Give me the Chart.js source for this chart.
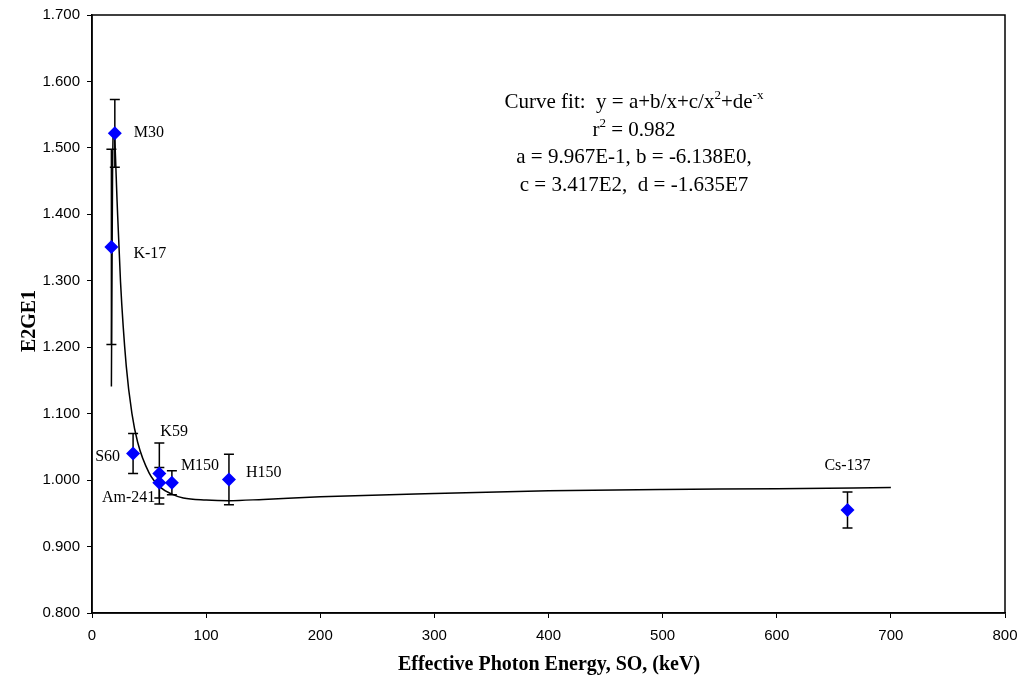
<!DOCTYPE html>
<html>
<head>
<meta charset="utf-8">
<script src="https://cdn.jsdelivr.net/npm/chart.js@4.4.0/dist/chart.umd.min.js"></script>
<style>
  html, body { margin: 0; padding: 0; background: #fff; }
  #wrap { width: 1023px; height: 681px; }
</style>
</head>
<body>
<div id="wrap"><canvas id="ratioChart"></canvas></div>
<script>
// measured sources: energy (keV), E2/E1 ratio and its uncertainty
const sourceNames = ['K-17', 'M30', 'S60', 'K59', 'Am-241', 'M150', 'H150', 'Cs-137'];
const energyKeV = [17, 20, 36, 59, 59, 70, 120, 662];
const ratioE2GE1 = [1.351, 1.522, 1.040, 1.010, 0.996, 0.996, 1.001, 0.955];
const ratioError = [0.147, 0.051, 0.030, 0.046, 0.023, 0.018, 0.038, 0.027];

// fitted curve as plotted
const fitEnergy = [17, 18, 19, 20, 22, 25, 30, 35, 40, 50, 60, 70, 80, 100, 120, 150, 200, 300, 400, 500, 600, 700];
const fitRatio = [1.141, 1.460, 1.529, 1.510, 1.419, 1.298, 1.172, 1.100, 1.057, 1.011, 0.989, 0.979, 0.973, 0.970, 0.969, 0.971, 0.975, 0.980, 0.984, 0.986, 0.987, 0.989];

// axis ticks
const xTicks = [0, 100, 200, 300, 400, 500, 600, 700, 800];
const yTicks = [0.8, 0.9, 1.0, 1.1, 1.2, 1.3, 1.4, 1.5, 1.6, 1.7];

// fit equation text, pieces with superscripts
const fitText = [
    [['Curve fit:  y = a+b/x+c/x'], ['2', true], ['+de'], ['-x', true]],
    [['r'], ['2', true], [' = 0.982']],
    [['a = 9.967E-1, b = -6.138E0,']],
    [['c = 3.417E2,  d = -1.635E7']]
];

// label placement relative to each marker
const labelOffsets = {
    'K-17': { dx: 22, dy: 7, align: 'left' },
    'M30': { dx: 19, dy: 0, align: 'left' },
    'S60': { dx: -13, dy: 3, align: 'right' },
    'K59': { dx: 1, dy: -42, align: 'left' },
    'Am-241': { dx: -4, dy: 15, align: 'right' },
    'M150': { dx: 9, dy: -17, align: 'left' },
    'H150': { dx: 17, dy: -7, align: 'left' },
    'Cs-137': { dx: 0, dy: -44, align: 'center' }
};

const serif = '"Liberation Serif", "Times New Roman", serif';
const sans = '"Liberation Sans", Arial, sans-serif';

const chartDecor = {
    id: 'chartDecor',
    beforeDatasetsDraw(chart) {
        const ctx = chart.ctx;
        const a = chart.chartArea;
        const xs = chart.scales.x, ys = chart.scales.y;
        ctx.save();
        // plot frame
        ctx.strokeStyle = '#000';
        ctx.lineWidth = 1.5;
        ctx.strokeRect(a.left, a.top, a.right - a.left, a.bottom - a.top);
        // error bars
        energyKeV.forEach((e, i) => {
            const px = xs.getPixelForValue(e);
            const top = ys.getPixelForValue(ratioE2GE1[i] + ratioError[i]);
            const bot = ys.getPixelForValue(ratioE2GE1[i] - ratioError[i]);
            ctx.beginPath();
            ctx.moveTo(px, top); ctx.lineTo(px, bot);
            ctx.moveTo(px - 5, top); ctx.lineTo(px + 5, top);
            ctx.moveTo(px - 5, bot); ctx.lineTo(px + 5, bot);
            ctx.stroke();
        });
        ctx.restore();
    },
    afterDraw(chart) {
        const ctx = chart.ctx;
        const xs = chart.scales.x, ys = chart.scales.y;
        ctx.save();
        ctx.fillStyle = '#000';

        // point labels
        ctx.font = '16px ' + serif;
        ctx.textBaseline = 'middle';
        sourceNames.forEach((name, i) => {
            const o = labelOffsets[name];
            ctx.textAlign = o.align;
            ctx.fillText(name, xs.getPixelForValue(energyKeV[i]) + o.dx, ys.getPixelForValue(ratioE2GE1[i]) + o.dy);
        });

        // fit equation block
        const main = '21px ' + serif, sup = '13px ' + serif;
        ctx.textAlign = 'left';
        ctx.textBaseline = 'alphabetic';
        fitText.forEach((line, k) => {
            let w = 0;
            line.forEach(p => { ctx.font = p[1] ? sup : main; w += ctx.measureText(p[0]).width; });
            let x = 634 - w / 2;
            const y = 108 + k * 27.7;
            line.forEach(p => {
                ctx.font = p[1] ? sup : main;
                ctx.fillText(p[0], x, p[1] ? y - 9 : y);
                x += ctx.measureText(p[0]).width;
            });
        });

        // axis titles
        ctx.font = 'bold 20px ' + serif;
        ctx.textAlign = 'center';
        ctx.textBaseline = 'middle';
        ctx.fillText('Effective Photon Energy, SO, (keV)', 549, 665);
        ctx.translate(30, 321);
        ctx.rotate(-Math.PI / 2);
        ctx.fillText('E2GE1', 0, 0);
        ctx.restore();
    }
};

new Chart(document.getElementById('ratioChart'), {
    type: 'scatter',
    data: {
        datasets: [
            {
                label: 'E2GE1',
                data: energyKeV.map((e, i) => ({ x: e, y: ratioE2GE1[i] })),
                pointStyle: 'rectRot',
                pointRadius: 7,
                backgroundColor: '#0000ff',
                borderColor: '#0000ff',
                borderWidth: 0
            },
            {
                type: 'line',
                label: 'fit',
                data: fitEnergy.map((e, i) => ({ x: e, y: fitRatio[i] })),
                borderColor: '#000',
                borderWidth: 1.5,
                pointRadius: 0,
                fill: false,
                cubicInterpolationMode: 'monotone'
            }
        ]
    },
    options: {
        responsive: true,
        maintainAspectRatio: false,
        animation: false,
        layout: { padding: { left: 0, right: 18, top: 15, bottom: 0 } },
        plugins: {
            legend: { display: false },
            tooltip: { enabled: false }
        },
        scales: {
            x: {
                type: 'linear',
                min: 0,
                max: 800,
                afterBuildTicks: axis => { axis.ticks = xTicks.map(v => ({ value: v })); },
                afterFit: scale => {
                    scale.height = 68;
                    scale.paddingLeft = 0;
                    scale.paddingRight = 0;
                },
                grid: { drawOnChartArea: false, color: '#000', tickLength: 5, lineWidth: 1 },
                border: { color: '#000', width: 1.5 },
                ticks: { color: '#000', font: { family: sans, size: 15 }, padding: 9, maxRotation: 0 }
            },
            y: {
                min: 0.8,
                max: 1.7,
                afterBuildTicks: axis => { axis.ticks = yTicks.map(v => ({ value: v })); },
                afterFit: scale => {
                    scale.width = 92;
                    scale.paddingTop = 0;
                    scale.paddingBottom = 0;
                },
                grid: { drawOnChartArea: false, color: '#000', tickLength: 5, lineWidth: 1 },
                border: { color: '#000', width: 1.5 },
                ticks: {
                    color: '#000',
                    font: { family: sans, size: 15 },
                    padding: 7,
                    callback: v => v.toFixed(3)
                }
            }
        }
    },
    plugins: [chartDecor]
});
</script>
</body>
</html>
